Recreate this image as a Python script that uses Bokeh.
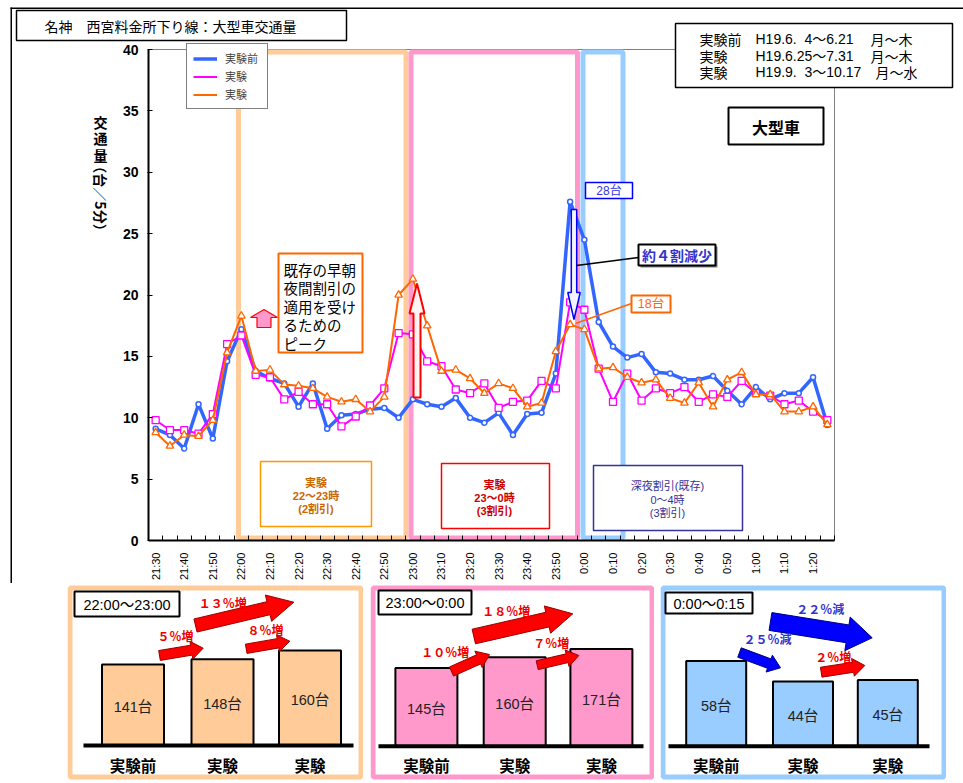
import math
from bokeh.plotting import figure
from bokeh.models import (Range1d, FixedTicker, Label, BoxAnnotation, Legend, LegendItem,
                          ColumnDataSource, Spacer, LinearAxis)
from bokeh.layouts import column, row
from bokeh.embed import file_html
from bokeh.resources import INLINE
from bokeh.core.properties import value

# ---------------- data ----------------
times = ["21:30", "21:35", "21:40", "21:45", "21:50", "21:55",
         "22:00", "22:05", "22:10", "22:15", "22:20", "22:25",
         "22:30", "22:35", "22:40", "22:45", "22:50", "22:55",
         "23:00", "23:05", "23:10", "23:15", "23:20", "23:25",
         "23:30", "23:35", "23:40", "23:45", "23:50", "23:55",
         "0:00", "0:05", "0:10", "0:15", "0:20", "0:25",
         "0:30", "0:35", "0:40", "0:45", "0:50", "0:55",
         "1:00", "1:05", "1:10", "1:15", "1:20", "1:25"]

before = [9.1, 8.6, 7.5, 11.1, 8.3, 14.6, 17.2, 13.8, 13.2, 12.8, 10.9, 12.8,
          9.1, 10.2, 10.3, 10.7, 10.8, 10.0, 11.5, 11.1, 10.9, 11.6, 10.0, 9.6,
          10.4, 8.6, 10.3, 10.4, 13.6, 27.6, 24.5, 17.8, 15.8, 14.9, 15.2, 13.7,
          13.6, 13.1, 13.1, 13.4, 12.2, 11.1, 12.5, 11.5, 12.0, 12.0, 13.3, 9.4]

exp1 = [9.8, 9.0, 9.0, 8.7, 10.3, 16.0, 16.7, 13.5, 13.3, 11.5, 12.1, 11.1,
        11.1, 9.3, 10.1, 11.0, 12.4, 16.9, 16.8, 14.6, 14.2, 12.3, 12.0, 12.8,
        10.8, 11.3, 11.4, 13.0, 12.4, 19.4, 18.8, 14.0, 11.3, 13.6, 11.4, 12.4,
        12.0, 12.5, 11.3, 11.9, 11.7, 13.0, 12.0, 11.8, 11.1, 11.4, 10.5, 9.8]

exp2 = [8.8, 7.7, 8.6, 8.5, 9.8, 15.3, 18.3, 13.8, 13.9, 12.7, 12.6, 12.4,
        11.7, 11.3, 11.5, 10.5, 11.7, 20.0, 21.3, 17.5, 13.8, 13.9, 13.2, 12.0,
        12.8, 12.4, 10.9, 11.2, 15.4, 17.6, 17.2, 14.0, 14.1, 13.3, 12.85, 13.1,
        11.6, 11.2, 12.85, 10.9, 13.1, 13.7, 11.9, 11.9, 10.5, 10.5, 10.9, 9.45]

series_names = ["実験前", "実験", "実験"]
y_ticks = [0, 5, 10, 15, 20, 25, 30, 35, 40]

panel_titles = ["22:00～23:00", "23:00～0:00", "0:00～0:15"]
panel_categories = ["実験前", "実験", "実験"]
panel1_values = [141, 148, 160]
panel2_values = [145, 160, 171]
panel3_values = [58, 44, 45]
panel1_changes = ["５％増", "１３％増", "８％増"]
panel2_changes = ["１０％増", "１８％増", "７％増"]
panel3_changes = ["２５％減", "２２％減", "２％増"]

FONT = "Liberation Sans, Noto Sans CJK JP"
JFONT = "Noto Sans CJK JP"

# ---------------- main chart ----------------
PAGE_W, TOP_H = 963, 583
FRAME_L, FRAME_R, FRAME_T, FRAME_B = 148, 834, 49, 540
N = len(times)
YMAX = 40


def X(px):
    return (px - FRAME_L) / (FRAME_R - FRAME_L) * N - 0.5


def Y(py):
    return (FRAME_B - py) / (FRAME_B - FRAME_T) * YMAX


p = figure(width=PAGE_W, height=TOP_H, x_range=Range1d(X(0), X(PAGE_W)),
           y_range=Range1d(Y(TOP_H), Y(0)),
           output_backend="svg", toolbar_location=None, min_border=0,
           x_axis_location=None, y_axis_location=None,
           background_fill_color="white", border_fill_color="white")
p.outline_line_color = None
p.xgrid.visible = False
p.ygrid.visible = False

xa = LinearAxis(fixed_location=0, bounds=(-0.5, N - 0.5))
xa.ticker = FixedTicker(ticks=list(range(0, N, 2)), minor_ticks=[k + 0.5 for k in range(-1, N)])
xa.major_label_overrides = {k: times[k] for k in range(0, N, 2)}
xa.major_tick_in = 0
xa.major_tick_out = 0
xa.minor_tick_in = 5
xa.minor_tick_out = 0
xa.minor_tick_line_color = "black"
xa.axis_line_width = 2
xa.axis_line_color = "black"
xa.major_label_orientation = math.pi / 2
xa.major_label_standoff = 12
xa.major_label_text_font = FONT
xa.major_label_text_font_size = "11px"
xa.major_label_text_color = "black"
p.add_layout(xa, "below")

ya = LinearAxis(fixed_location=-0.5, bounds=(0, YMAX))
ya.ticker = FixedTicker(ticks=y_ticks, minor_ticks=[])
ya.major_tick_in = 4
ya.major_tick_out = 1
ya.minor_tick_in = 0
ya.minor_tick_out = 0
ya.axis_line_width = 2
ya.axis_line_color = "black"
ya.major_label_standoff = 9
ya.major_label_text_font = "Liberation Sans"
ya.major_label_text_font_style = "bold"
ya.major_label_text_font_size = "14px"
ya.major_label_text_color = "black"
p.add_layout(ya, "left")

# grey top / right plot border
p.line([-0.5, N - 0.5, N - 0.5], [YMAX, YMAX, 0], line_color="#808080", line_width=1)

# time-window frames
for l, r, c in [(238, 405.5, "#FFCC99"), (410.5, 577, "#FF99CC"), (582.5, 622.5, "#99CCFF")]:
    p.quad(left=[X(l)], right=[X(r)], top=[Y(51.5)], bottom=[Y(537.5)],
           fill_color=None, line_color=c, line_width=5)

src = ColumnDataSource(dict(x=list(range(N)), before=before, exp1=exp1, exp2=exp2))
r_b = p.line("x", "before", source=src, line_color="#3366FF", line_width=3.5, line_join="round")
p.scatter("x", "before", source=src, marker="circle", size=5, fill_color="white",
          line_color="#3366FF", line_width=1.5)
r_p = p.line("x", "exp1", source=src, line_color="#FF00FF", line_width=2, line_join="round")
p.scatter("x", "exp1", source=src, marker="square", size=7, fill_color="white",
          line_color="#FF00FF", line_width=1.3)
r_o = p.line("x", "exp2", source=src, line_color="#FF6600", line_width=2, line_join="round")
p.scatter("x", "exp2", source=src, marker="triangle", size=7.5, fill_color="white",
          line_color="#FF6600", line_width=1.3)


def arrow_poly(x0, y0, x1, y1, sw, hw, hl):
    dx, dy = x1 - x0, y1 - y0
    L = math.hypot(dx, dy)
    ux, uy = dx / L, dy / L
    nx, ny = -uy, ux
    bx, by = x1 - ux * hl, y1 - uy * hl
    pts = [(x0 + nx * sw, y0 + ny * sw), (bx + nx * sw, by + ny * sw), (bx + nx * hw, by + ny * hw),
           (x1, y1), (bx - nx * hw, by - ny * hw), (bx - nx * sw, by - ny * sw),
           (x0 - nx * sw, y0 - ny * sw)]
    return [q[0] for q in pts], [q[1] for q in pts]


def main_arrow(x0, y0, x1, y1, sw, hw, hl, fill, line, lw):
    xs, ys = arrow_poly(x0, y0, x1, y1, sw, hw, hl)
    p.patch([X(v) for v in xs], [Y(v) for v in ys], fill_color=fill, line_color=line, line_width=lw)


main_arrow(263.5, 327, 263.5, 309, 7, 13.5, 8, "#FF99CC", "#FF0000", 1.2)
main_arrow(416.5, 397, 416.5, 283, 3.5, 7.5, 30, "#FFF4F4", "#FF0000", 2)
main_arrow(573.5, 209, 573.5, 319, 2.7, 6.2, 27, "#F2F5FF", "#0000FF", 1.5)

# connector lines
p.line([X(576), X(638)], [Y(265), Y(257)], line_color="black", line_width=1.5)
p.line([X(575), X(631)], [Y(323), Y(303)], line_color="#FF6600", line_width=1.5)

legend = Legend(items=[LegendItem(label=series_names[0], renderers=[r_b]),
                       LegendItem(label=series_names[1], renderers=[r_p]),
                       LegendItem(label=series_names[2], renderers=[r_o])],
                location=(186, TOP_H - 109))
legend.border_line_color = "black"
legend.border_line_width = 1.5
legend.background_fill_color = "white"
legend.background_fill_alpha = 1
legend.label_text_font = JFONT
legend.label_text_font_size = "11px"
legend.glyph_width = 24
legend.glyph_height = 11
legend.label_height = 11
legend.label_width = 36
legend.spacing = 2
legend.padding = 6
legend.margin = 0
legend.label_standoff = 8
p.add_layout(legend)


def rbox(x0, y0, x1, y1, color, lw, fill="white"):
    p.add_layout(BoxAnnotation(left=X(x0), right=X(x1), top=Y(y0), bottom=Y(y1),
                               fill_color=fill, fill_alpha=1.0 if fill else 0.0,
                               line_color=color, line_alpha=1.0 if color else 0.0,
                               line_width=lw))


def label(s, px, py, size, color="black", bold=False, align="center", font=FONT, angle=0.0):
    p.add_layout(Label(x=X(px), y=Y(py), text=s, text_font=font, text_font_size=f"{size}px",
                       text_color=color, text_font_style="bold" if bold else "normal",
                       text_align=align, text_baseline="middle", angle=angle))


# page frame
rbox(10, 7, PAGE_W, 8.5, None, 0, "black")
rbox(10, 7, 11.5, TOP_H, None, 0, "black")

# title
rbox(16, 10, 346, 40, "black", 1.5)
label("名神　西宮料金所下り線：大型車交通量", 44, 25, 14, font=JFONT, align="left")

# period box
rbox(675, 23, 952, 87, "black", 1.5)
for i, (nm, dt, dy, dx) in enumerate([("実験前", "H19.6.\u20074～6.21", "月～木", 870),
                                       ("実験", "H19.6.25～7.31", "月～木", 870),
                                       ("実験", "H19.9.\u20073～10.17", "月～水", 875)]):
    yy = 38.5 + i * 16.5
    label(nm, 699, yy, 14, font=JFONT, align="left")
    label(dt, 755, yy, 14, align="left")
    label(dy, dx, yy, 14, font=JFONT, align="left")

# y axis title (vertical)
for i, ch in enumerate(["交", "通", "量"]):
    label(ch, 100, 121 + i * 16.5, 14, bold=True, font=JFONT)
label("（台／5分）", 100, 198, 14, bold=True, font=JFONT, angle=-math.pi / 2)

# vehicle type box
rbox(728, 107, 823, 144, "black", 2)
label("大型車", 775.5, 126, 16, bold=True, font=JFONT)

# peak note
rbox(278, 253, 362, 352, "#FF6600", 2)
for i, s in enumerate(["既存の早朝", "夜間割引の", "適用を受け", "るための", "ピーク"]):
    label(s, 283, 268.5 + i * 18.6, 14.5, font=JFONT, align="left")

# value callouts
rbox(585, 182, 632, 198, "#0000FF", 1.5)
label("28台", 608.5, 190, 12, color="#3333DD")
rbox(640, 246, 717, 267, None, 0, "#808080")
rbox(638, 244, 715, 265, "black", 2)
label("約４割減少", 676.5, 254.5, 14, color="#3333CC", bold=True, font=JFONT)
rbox(631, 295, 670, 312, "#FF6600", 2)
label("18台", 650.5, 303.5, 12.5, color="#FF6600")

# discount period boxes
rbox(260, 461, 371, 526, "#FF9900", 1.5)
for i, s in enumerate(["実験", "22～23時", "(2割引)"]):
    label(s, 315.5, 482 + i * 13.2, 11, color="#CC6600", bold=True)
rbox(441, 463, 549, 528, "#FF0000", 1.5)
for i, s in enumerate(["実験", "23～0時", "(3割引)"]):
    label(s, 494, 484 + i * 13.2, 11, color="#CC0000", bold=True)
rbox(593, 465, 742, 530, "#333399", 1.5)
for i, s in enumerate(["深夜割引(既存)", "0～4時", "(3割引)"]):
    label(s, 667, 485.5 + i * 13.5, 11, color="#333399")


# ---------------- bottom panels ----------------
PANEL_TOP = TOP_H
PH = 783 - TOP_H


def make_panel(left, width, border_color, bar_color, title, tbox, centers, bar_w, base, v0, scale,
               values, changes, arrows, change_pos, change_colors):
    f = figure(width=width, height=PH, x_range=Range1d(0, width), y_range=Range1d(PH, 0),
               output_backend="svg", toolbar_location=None, min_border=0,
               x_axis_location=None, y_axis_location=None, outline_line_color=None,
               background_fill_color="white", border_fill_color="white")
    f.xgrid.visible = False
    f.ygrid.visible = False
    lb = base[2] - PANEL_TOP
    f.extra_y_ranges = {"bars": Range1d(v0 - (PH - lb) / scale, v0 + lb / scale)}
    lx = lambda v: v - left
    ly = lambda v: v - PANEL_TOP
    # border
    f.quad(left=[2.5], right=[width - 2.5], top=[4.5], bottom=[193.5], fill_color=None,
           line_color=border_color, line_width=5)
    # title box
    f.quad(left=[lx(tbox[0])], right=[lx(tbox[2])], top=[ly(tbox[1])], bottom=[ly(tbox[3])],
           fill_color="white", line_color="black", line_width=2)
    f.text(x=[lx((tbox[0] + tbox[2]) / 2)], y=[ly((tbox[1] + tbox[3]) / 2) + 0.5], text=[title],
           text_font=value(FONT), text_font_size="14.5px", text_align="center",
           text_baseline="middle", text_color="black")
    cx = [lx(c) for c in centers]
    f.vbar(x=cx, width=bar_w, top=values, bottom=v0, y_range_name="bars",
           fill_color=bar_color, line_color="black", line_width=2)
    f.line([lx(base[0]), lx(base[1])], [lb, lb], line_color="black", line_width=4)
    f.text(x=cx, y=[(v0 + v) / 2 for v in values], text=[f"{v}台" for v in values],
           y_range_name="bars", y_offset=2, text_font=value(FONT), text_font_size="14.5px",
           text_align="center", text_baseline="middle", text_color="#222222")
    f.text(x=cx, y=[ly(764)] * len(cx), text=panel_categories, text_font=value(JFONT),
           text_font_size="15.5px", text_font_style="bold", text_align="center",
           text_baseline="middle", text_color="black")
    for (x0, y0, x1, y1, sw, hw, hl, fc, lc) in arrows:
        xs, ys = arrow_poly(x0, y0, x1, y1, sw, hw, hl)
        f.patch([lx(v) for v in xs], [ly(v) for v in ys], fill_color=fc, line_color=lc,
                line_width=1)
    f.text(x=[lx(q[0]) for q in change_pos], y=[ly(q[1]) for q in change_pos], text=changes,
           text_font=value(JFONT), text_font_size="12px", text_font_style="bold",
           text_align="center", text_baseline="middle", text_color=change_colors)
    return f


RED, DRED, BLUE, NAVY = "#FF0000", "#990000", "#0000FF", "#000080"

P1 = make_panel(67, 296, "#FFCC99", "#FFCC99", panel_titles[0], (74, 591, 179, 616),
                [132.5, 222, 309.5], 62, (83, 353, 745), 31, 0.737, panel1_values,
                panel1_changes,
                [(159, 655, 202.7, 647.7, 5, 9, 12, RED, DRED),
                 (195, 625, 293.3, 601.7, 6.7, 13.5, 26, RED, DRED),
                 (245.7, 648.3, 289.3, 640.7, 4.7, 8.5, 12, RED, DRED)],
                [(175, 635), (222.3, 601.7), (265, 629.3)], ["#EE0000"] * 3)

P2 = make_panel(370, 284, "#FF99CC", "#FF99CC", panel_titles[1], (378, 590, 471, 614),
                [425.9, 514.2, 600.9], 62, (378, 643, 745.7), 38, 0.73, panel2_values,
                panel2_changes,
                [(451, 671, 489, 654, 5, 9, 12, RED, DRED),
                 (473.3, 636, 572.3, 613.3, 7.5, 14, 26, RED, DRED),
                 (536.7, 664.7, 578.3, 655, 4.5, 8.5, 12, RED, DRED)],
                [(444.7, 650.7), (505.7, 610), (550.7, 641.7)], ["#EE0000"] * 3)

P3 = make_panel(660, 286, "#99CCFF", "#99CCFF", panel_titles[2], (665, 592, 752, 613),
                [715.7, 802.5, 887.3], 60, (668, 929, 745.7), 0, 1.47, panel3_values,
                panel3_changes,
                [(739, 652, 780, 667.3, 5, 9, 12, BLUE, NAVY),
                 (770, 621, 871.7, 637.3, 9, 17, 25, BLUE, NAVY),
                 (820.7, 671.7, 864.3, 665, 5, 9, 12, RED, DRED)],
                [(767, 638.3), (819.7, 608.3), (832.7, 656)], ["#3333CC", "#3333CC", "#EE0000"])

bottom = row(Spacer(width=67, height=PH), P1, Spacer(width=7, height=PH), P2,
             Spacer(width=6, height=PH), P3)
layout = column(p, bottom)

open("out.html", "w").write(file_html(layout, INLINE))
